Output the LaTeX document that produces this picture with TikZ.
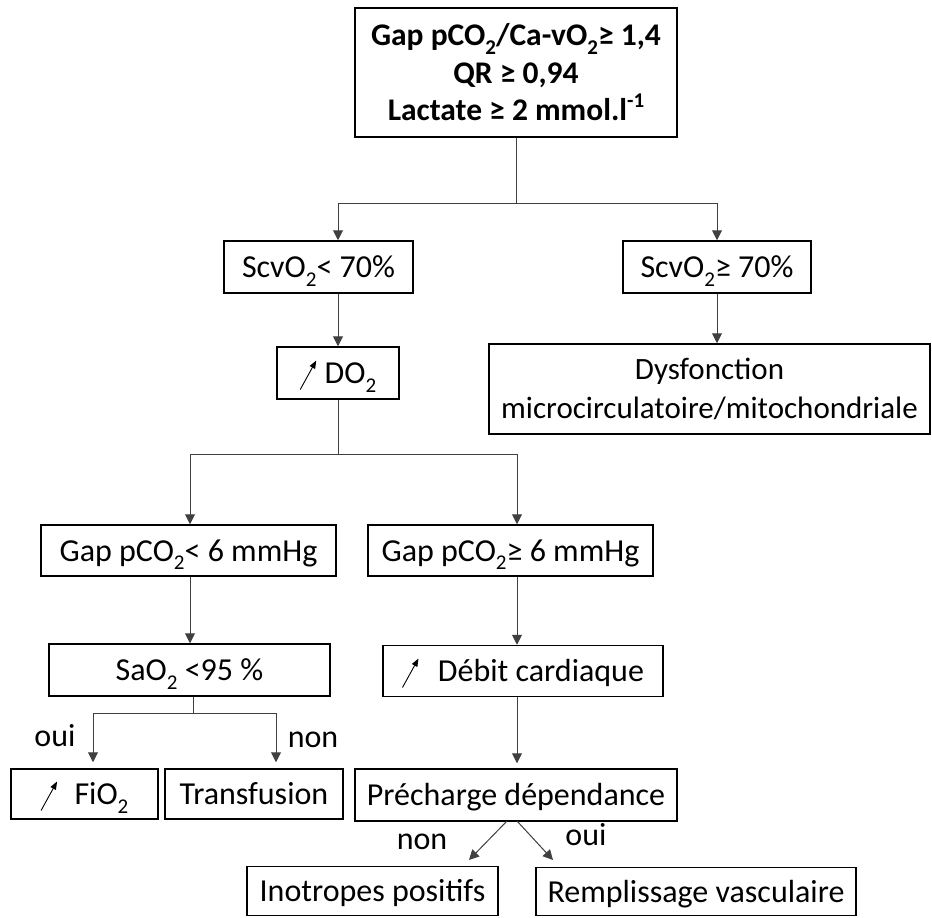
\documentclass[tikz,border=0pt]{standalone}
\usepackage{fontspec}
\setmainfont{Carlito}
\usetikzlibrary{arrows.meta}
\newcommand\subtwo{\raisebox{-0.28em}{\fontsize{21}{21}\selectfont 2}}
\newcommand\supmone{\raisebox{0.42em}{\fontsize{21}{21}\selectfont -1}}
\newcommand\uparr{\tikz[baseline=0pt,x=1pt,y=1pt]\draw[line width=0.9pt,black,-{Triangle[width=6pt,length=8pt]}] (0,-6) -- (16,23);}
\begin{document}
\begin{tikzpicture}[x=1pt,y=-1pt,
  mbox/.style={draw=black,line width=1.5pt,inner sep=0pt,align=center,font=\fontsize{32}{38}\selectfont},
  box/.style={mbox,text height=21pt,text depth=0pt},
  conn/.style={draw=black!75,line width=1pt},
  arr/.style={conn,-{Triangle[width=10pt,length=10pt]}},
  lbl/.style={font=\fontsize{32}{38}\selectfont,inner sep=0pt}]
\useasboundingbox (0,0) rectangle (932,918);
\fill[white] (0,0) rectangle (932,918);
\node[mbox,font=\fontsize{31.5}{37.5}\selectfont\bfseries,minimum width=322pt,minimum height=129pt] (top) at (516,72.5)
  {Gap pCO\subtwo/Ca-vO\subtwo≥ 1,4\\QR ≥ 0,94\\Lactate ≥ 2 mmol.l\supmone};
\node[box,minimum width=189pt,minimum height=52pt] (scl) at (318.5,267) {ScvO\subtwo< 70\%};
\node[box,minimum width=188pt,minimum height=52pt] (scg) at (717,267) {ScvO\subtwo≥ 70\%};
\node[box,minimum width=122pt,minimum height=52pt] (do2) at (338,373) {\uparr\hspace{8pt}DO\subtwo};
\node[mbox,font=\fontsize{31}{39}\selectfont,minimum width=441pt,minimum height=90pt] (dys) at (709.5,389) {Dysfonction\\microcirculatoire/mitochondriale};
\node[box,minimum width=295pt,minimum height=51pt] (gl) at (188.5,550.5) {Gap pCO\subtwo< 6 mmHg};
\node[box,minimum width=285pt,minimum height=51pt] (gg) at (510.5,550.5) {Gap pCO\subtwo≥ 6 mmHg};
\node[box,minimum width=281pt,minimum height=52pt] (sao) at (189.5,670) {SaO\subtwo{} <95 \%};
\node[box,minimum width=280pt,minimum height=51pt] (deb) at (523,671) {\uparr\hspace{19pt}Débit cardiaque};
\node[box,minimum width=147pt,minimum height=50pt] (fio) at (84.5,794) {\uparr\hspace{17pt}FiO\subtwo};
\node[box,minimum width=178pt,minimum height=50pt] (tra) at (254,794) {Transfusion};
\node[box,minimum width=322pt,minimum height=52pt] (pre) at (516,795) {Précharge dépendance};
\node[box,minimum width=251pt,minimum height=49pt] (ino) at (372.5,891) {Inotropes positifs};
\node[box,minimum width=320pt,minimum height=48pt] (rem) at (696,891.5) {Remplissage vasculaire};
% labels
\node[lbl] (oui1) at (55,736) {oui};
\node[lbl] (non1) at (313,739.5) {non};
\node[lbl] (non2) at (422,842) {non};
\node[lbl] (oui2) at (586,835) {oui};
% connectors
\coordinate (j1) at (516,203);
\draw[conn] (top.south) -- (j1);
\draw[arr] (j1) -| (do2.north |- scl.north);
\draw[arr] (j1) -| (scg.north);
\draw[arr] (do2.north |- scl.south) -- (do2.north);
\draw[arr] (scg.south) -- (scg.south |- dys.north);
\coordinate (j2) at (338,454);
\coordinate (j2l) at (190,454);
\coordinate (j2r) at (517,454);
\draw[conn] (do2.south) -- (j2);
\draw[conn] (j2l) -- (j2r);
\draw[arr] (j2l) -- (j2l |- gl.north);
\draw[arr] (j2r) -- (j2r |- gg.north);
\draw[arr] (j2l |- gl.south) -- (j2l |- sao.north);
\draw[arr] (j2r |- gg.south) -- (j2r |- deb.north);
\coordinate (j3) at (193,713);
\coordinate (j3l) at (93,713);
\coordinate (j3r) at (276,713);
\draw[conn] (j3 |- sao.south) -- (j3);
\draw[conn] (j3l) -- (j3r);
\draw[arr,shorten >=6pt] (j3l) -- (j3l |- fio.north);
\draw[arr,shorten >=6pt] (j3r) -- (j3r |- tra.north);
\draw[arr,shorten >=5pt] (j2r |- deb.south) -- (j2r |- pre.north);
\coordinate (p1) at (507,821);
\coordinate (p2) at (517,821);
\coordinate (e1) at (469,860);
\coordinate (e2) at (553,860);
\draw[arr] (p1) -- (e1);
\draw[arr] (p2) -- (e2);
\end{tikzpicture}
\end{document}
